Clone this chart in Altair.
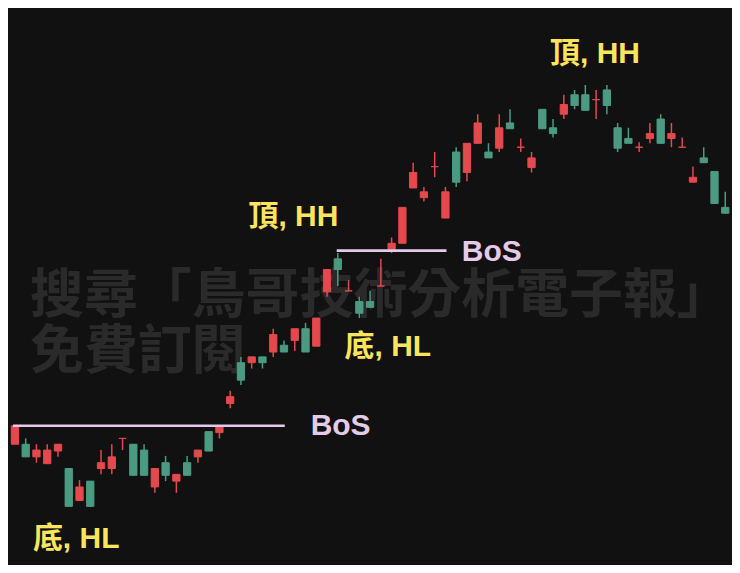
import altair as alt
import pandas as pd

# ---- candle data (arbitrary price units) ----
idx = list(range(67))
opens = [124, 124, 111, 104, 117, 99, 66, 86, 99, 99,
         130, 124, 118, 80, 105, 86, 105, 111, 137, 136,
         166, 208, 208, 214, 219, 226, 231, 243, 225, 281,
         315, 282, 271, 271, 287, 325, 331, 388, 378, 410,
         357, 425, 404, 434, 425, 429, 455, 430, 409, 469,
         450, 464, 484, 484, 479, 489, 450, 439, 430, 439,
         459, 439, 430, 394, 419, 405, 368]
closes = [143, 111, 118, 118, 124, 60, 80, 60, 105, 111,
          130, 92, 92, 99, 92, 93, 92, 118, 117, 143,
          173, 190, 214, 208, 237, 219, 243, 219, 254, 304,
          304, 282, 259, 265, 287, 331, 368, 404, 384, 410,
          384, 394, 434, 455, 419, 450, 449, 430, 419, 449,
          444, 474, 473, 468, 479, 473, 429, 434, 430, 444,
          434, 444, 430, 399, 414, 372, 362]
highs = [143, 130, 124, 124, 124, 99, 87, 86, 118, 124,
         130, 124, 124, 99, 112, 93, 112, 118, 137, 143,
         179, 214, 214, 214, 243, 231, 243, 249, 254, 304,
         321, 293, 276, 282, 315, 337, 368, 414, 389, 425,
         389, 430, 434, 464, 434, 464, 469, 439, 425, 469,
         459, 484, 489, 494, 489, 494, 455, 450, 435, 455,
         464, 455, 440, 410, 430, 405, 384]
lows = [124, 111, 105, 104, 111, 60, 66, 60, 93, 93,
        118, 92, 92, 74, 86, 74, 92, 105, 117, 130,
        161, 185, 202, 202, 214, 219, 220, 219, 225, 276,
        287, 282, 254, 265, 287, 321, 331, 388, 374, 399,
        357, 389, 395, 434, 419, 425, 449, 425, 404, 449,
        440, 459, 469, 468, 459, 464, 425, 434, 425, 434,
        434, 430, 430, 394, 414, 372, 362]

# ---- break-of-structure levels ----
bos_level = [143, 323.5]
bos_start = [-0.18, 29.9]
bos_end = [25.07, 40.1]

# ---- annotations ----
label_text = ["頂, HH", "頂, HH", "BoS", "底, HL", "BoS", "底, HL"]
label_x = [53.9, 25.87, 44.3, 34.65, 30.26, 5.69]
label_y = [517, 349, 313, 215, 134, 17]
label_kind = ["swing", "swing", "bos", "swing", "bos", "swing"]

wm_text = ["搜尋「鳥哥技術分析電子報」", "免費訂閱"]
wm_x = [1.4, 1.4]
wm_y = [259, 202]

BG = "#111111"
RED = "#e5484d"
GREEN = "#4b9b83"
YELLOW = "#fbe55c"
LAV = "#e3cbe9"
WM = "#2a2a2a"

df = pd.DataFrame({"i": idx, "open": opens, "close": closes, "high": highs, "low": lows})
df["kind"] = ["up" if c >= o else "down" for o, c in zip(opens, closes)]
lines_df = pd.DataFrame({"level": bos_level, "start": bos_start, "end": bos_end})
labels_df = pd.DataFrame({"text": label_text, "x": label_x, "y": label_y, "kind": label_kind})
wm_df = pd.DataFrame({"text": wm_text, "x": wm_x, "y": wm_y})

xs = alt.Scale(domain=[-0.18, 66.07], nice=False, zero=False)
ys = alt.Scale(domain=[0, 573], nice=False, zero=False)
kind_scale = alt.Scale(domain=["up", "down", "swing", "bos"], range=[RED, GREEN, YELLOW, LAV])

watermark = alt.Chart(wm_df).mark_text(
    align="left", baseline="alphabetic", font="Noto Sans CJK TC",
    fontWeight="bold", fontSize=54, color=WM
).encode(
    x=alt.X("x:Q", scale=xs, axis=None),
    y=alt.Y("y:Q", scale=ys, axis=None),
    text="text:N",
)

wicks = alt.Chart(df).mark_rule(strokeWidth=1.5, clip=True).encode(
    x=alt.X("i:Q", scale=xs, axis=None),
    y=alt.Y("high:Q", scale=ys, axis=None),
    y2="low:Q",
    color=alt.Color("kind:N", scale=kind_scale, legend=None),
)

bodies = alt.Chart(df).mark_bar(size=7.3, strokeWidth=1, clip=True).encode(
    x=alt.X("i:Q", scale=xs, axis=None),
    y=alt.Y("open:Q", scale=ys, axis=None),
    y2="close:Q",
    color=alt.Color("kind:N", scale=kind_scale, legend=None),
    stroke=alt.Stroke("kind:N", scale=kind_scale, legend=None),
)

bos_lines = alt.Chart(lines_df).mark_rule(strokeWidth=2.6, color=LAV, clip=True).encode(
    x=alt.X("start:Q", scale=xs, axis=None),
    x2="end:Q",
    y=alt.Y("level:Q", scale=ys, axis=None),
)

labels = alt.Chart(labels_df).mark_text(
    align="center", baseline="alphabetic",
    font="Liberation Sans, Noto Sans CJK TC", fontWeight="bold", fontSize=30
).encode(
    x=alt.X("x:Q", scale=xs, axis=None),
    y=alt.Y("y:Q", scale=ys, axis=None),
    text="text:N",
    color=alt.Color("kind:N", scale=kind_scale, legend=None),
)

chart = alt.layer(watermark, wicks, bodies, bos_lines, labels).properties(
    width=724, height=557, padding=0, background=BG
).configure_view(strokeWidth=0)

chart.save("out.html", embed_options={"renderer": "svg", "actions": False})
